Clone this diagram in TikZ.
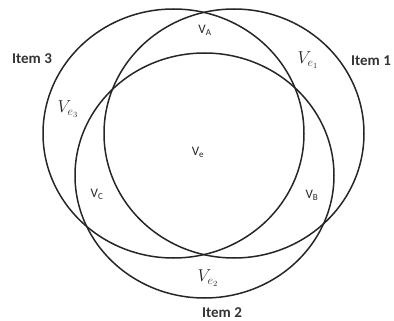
\documentclass[tikz,border=0pt]{standalone}
\usepackage{fontspec}
\setmainfont{Carlito}
\usepackage{tikz}

\begin{document}
\begin{tikzpicture}[x=1pt, y=-1pt, every node/.style={draw=none, inner sep=0pt},
    venn/.style={line width=1.5pt, draw=black!85},
    itemlabel/.style={font=\fontsize{15}{17}\selectfont\bfseries, text=black!80},
    region/.style={font=\fontsize{13}{15}\selectfont, text=black!85},
    edgeregion/.style={font=\fontsize{16.5}{18}\selectfont, text=black!85}]
        \useasboundingbox (0,0) rectangle (394,321);

        % Items
        \coordinate (c1) at (234,133.5);
        \coordinate (c2) at (204.5,175.5);
        \coordinate (c3) at (173.5,133.5);
        \draw[venn] (c1) ellipse [x radius=130pt, y radius=124.5pt];
        \draw[venn] (c2) ellipse [x radius=129.5pt, y radius=122.5pt];
        \draw[venn] (c3) ellipse [x radius=130.5pt, y radius=124.5pt];

        \node[itemlabel] (item1) at (371,61) {Item 1};
        \node[itemlabel] (item2) at (222,313) {Item 2};
        \node[itemlabel] (item3) at (32,59) {Item 3};

        % Regions
        \node[region] (ve) at (198,152) {V\textsubscript{e}};
        \node[region] (va) at (205,30) {V\textsubscript{A}};
        \node[region] (vb) at (312,195) {V\textsubscript{B}};
        \node[region] (vc) at (97,194) {V\textsubscript{C}};

        \node[edgeregion] (ve1) at (308,60) {$V_{e_1}$};
        \node[edgeregion] (ve2) at (208,278) {$V_{e_2}$};
        \node[edgeregion] (ve3) at (68,109) {$V_{e_3}$};
    \end{tikzpicture}
\end{document}
